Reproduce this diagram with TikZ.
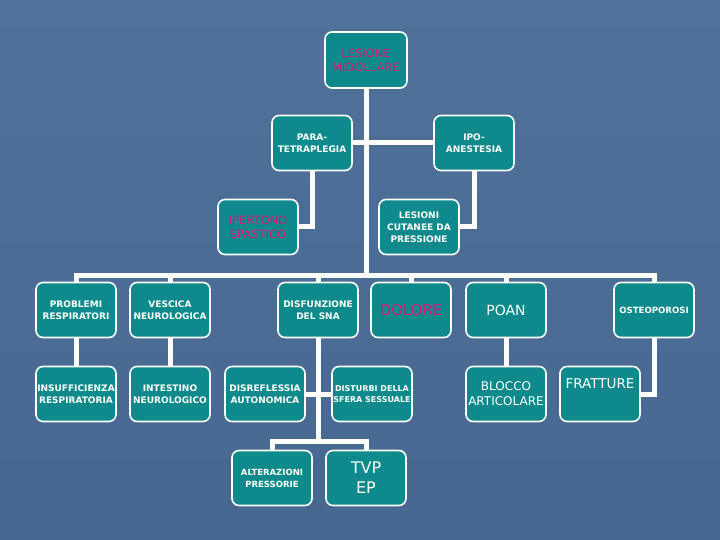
\documentclass[tikz,border=0pt]{standalone}
\usepackage{fontspec}
\setmainfont{DejaVu Sans}
\definecolor{bgTop}{RGB}{80,114,154}
\definecolor{bgBot}{RGB}{70,103,144}
\definecolor{boxteal}{RGB}{14,138,140}
\definecolor{mag}{RGB}{206,30,128}
\tikzset{
  box/.style={draw=white, line width=1.6pt, fill=boxteal, rounded corners=7pt,
    minimum width=80pt, minimum height=55pt, text=white, align=center, inner sep=1pt,
    font=\fontsize{9}{12}\selectfont\bfseries},
  small/.style={font=\fontsize{8}{11}\selectfont\bfseries},
  magtext/.style={text=mag},
  link/.style={draw=white, line width=5pt, line join=miter},
}
\begin{document}
\begin{tikzpicture}[x=1pt,y=-1pt]
\fill[top color=bgTop, bottom color=bgBot] (0,0) rectangle (720,540);
\useasboundingbox (0,0) rectangle (720,540);

\coordinate (bus) at (0,275);
\coordinate (low) at (0,441);

\node[box, magtext, font=\fontsize{11.5}{14}\selectfont, minimum width=82pt, minimum height=56pt] (lm) at (366,60) {LESIONE\\MIDOLLARE};
\node[box] (para) at (312,143) {PARA-\\TETRAPLEGIA};
\node[box] (ipo) at (474,143) {IPO-\\ANESTESIA};
\node[box, magtext, font=\fontsize{11.5}{14}\selectfont] (iper) at (258,227) {IPERTONO\\SPASTICO};
\node[box] (cut) at (419,227) {LESIONI\\CUTANEE DA\\PRESSIONE};

\node[box] (pr) at (76,310) {PROBLEMI\\RESPIRATORI};
\node[box] (ve) at (170,310) {VESCICA\\NEUROLOGICA};
\node[box] (sna) at (318,310) {DISFUNZIONE\\DEL SNA};
\node[box, magtext, font=\fontsize{15}{17}\selectfont] (dol) at (411,310) {DOLORE};
\node[box, font=\fontsize{14}{16}\selectfont] (poan) at (506,310) {POAN};
\node[box, font=\fontsize{8.6}{11}\selectfont\bfseries] (ost) at (654,310) {OSTEOPOROSI};

\node[box] (ins) at (76,394) {INSUFFICIENZA\\RESPIRATORIA};
\node[box] (int) at (170,394) {INTESTINO\\NEUROLOGICO};
\node[box] (dis) at (265,394) {DISREFLESSIA\\AUTONOMICA};
\node[box, small] (sex) at (372,394) {DISTURBI DELLA\\SFERA SESSUALE};
\node[box, font=\fontsize{12}{15}\selectfont] (blo) at (506,394) {BLOCCO\\ARTICOLARE};
\node[box, font=\fontsize{13.5}{16}\selectfont] (fra) at (600,394) {FRATTURE\\[1pt]\strut};

\node[box, font=\fontsize{8.5}{12}\selectfont\bfseries] (alt) at (272,478) {ALTERAZIONI\\PRESSORIE};
\node[box, font=\fontsize{16}{20}\selectfont] (tvp) at (366,478) {TVP\\EP};

\draw[link] (lm.south) -- (lm.south |- bus);
\draw[link] (pr.north) -- (pr.north |- bus) -- (ost.north |- bus) -- (ost.north);
\foreach \n in {ve,sna,dol,poan} \draw[link] (\n.north) -- (\n.north |- bus);
\draw[link] (para.east) -- (ipo.west);
\draw[link] (para.south) -- (para.south |- iper.east) -- (iper.east);
\draw[link] (ipo.south) -- (ipo.south |- cut.east) -- (cut.east);
\draw[link] (pr.south) -- (ins.north);
\draw[link] (ve.south) -- (int.north);
\draw[link] (poan.south) -- (blo.north);
\draw[link] (sna.south) -- (sna.south |- low);
\draw[link] (alt.north) -- (alt.north |- low) -- (tvp.north |- low) -- (tvp.north);
\draw[link] (dis.east) -- (sex.west);
\draw[link] (ost.south) -- (ost.south |- fra.east) -- (fra.east);
\end{tikzpicture}
\end{document}
